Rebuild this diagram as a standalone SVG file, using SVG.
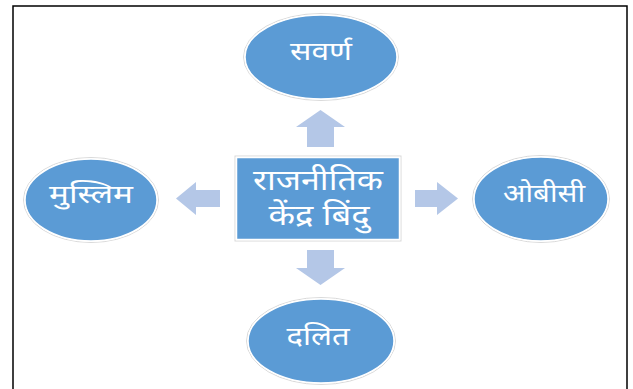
<svg xmlns="http://www.w3.org/2000/svg" width="633" height="389" viewBox="0 0 633 389">
<style>
.node{fill:#5b9bd5;stroke:#ffffff;stroke-width:1.5}
.halo{fill:none;stroke:#d9d9d9;stroke-width:1}
.arrow{fill:#b4c7e7}
.lbl{font-family:"Noto Sans Devanagari","Noto Sans","Lohit Devanagari",sans-serif;fill:#ffffff;text-anchor:middle;dominant-baseline:central}
</style>
<rect x="0" y="0" width="633" height="389" fill="#ffffff"/>
<path d="M13,395 V6 H627 V395" fill="none" stroke="#000000" stroke-width="1.5"/>
<g id="connectors">
<polygon class="arrow" points="320.5,110 345,127 334,127 334,147 307,147 307,127 296,127"/>
<polygon class="arrow" points="307,250 334,250 334,268 345,268 320.5,285 296,268 307,268"/>
<polygon class="arrow" points="176,198.5 196,182 196,190 220,190 220,207 196,207 196,215"/>
<polygon class="arrow" points="415,190 437,190 437,182 458,198.5 437,215 437,207 415,207"/>
</g>
<g id="top">
<ellipse class="halo" cx="321" cy="57" rx="77.5" ry="43.5"/>
<ellipse class="node" cx="321" cy="57" rx="76" ry="42"/>
<text class="lbl" x="321" y="54" font-size="25" textLength="62" lengthAdjust="spacingAndGlyphs">सवर्ण</text>
</g>
<g id="center">
<rect x="235" y="156" width="166" height="85" fill="none" stroke="#d9d9d9" stroke-width="1"/>
<rect class="node" x="236.5" y="157.5" width="163" height="82"/>
<text class="lbl" x="318" y="183" font-size="29" textLength="130" lengthAdjust="spacingAndGlyphs">राजनीतिक</text>
<text class="lbl" x="319" y="218" font-size="29" textLength="101" lengthAdjust="spacingAndGlyphs">केंद्र बिंदु</text>
</g>
<g id="left">
<ellipse class="halo" cx="91" cy="200" rx="67.5" ry="42.5"/>
<ellipse class="node" cx="91" cy="200" rx="66" ry="41"/>
<text class="lbl" x="91" y="197" font-size="25" textLength="84" lengthAdjust="spacingAndGlyphs">मुस्लिम</text>
</g>
<g id="right">
<ellipse class="halo" cx="541" cy="199" rx="68.5" ry="43.5"/>
<ellipse class="node" cx="541" cy="199" rx="67" ry="42"/>
<text class="lbl" x="544" y="196" font-size="25" textLength="82" lengthAdjust="spacingAndGlyphs">ओबीसी</text>
</g>
<g id="bottom">
<ellipse class="halo" cx="321" cy="341" rx="74.5" ry="43.5"/>
<ellipse class="node" cx="321" cy="341" rx="73" ry="42"/>
<text class="lbl" x="318" y="339" font-size="25" textLength="63" lengthAdjust="spacingAndGlyphs">दलित</text>
</g>
</svg>
